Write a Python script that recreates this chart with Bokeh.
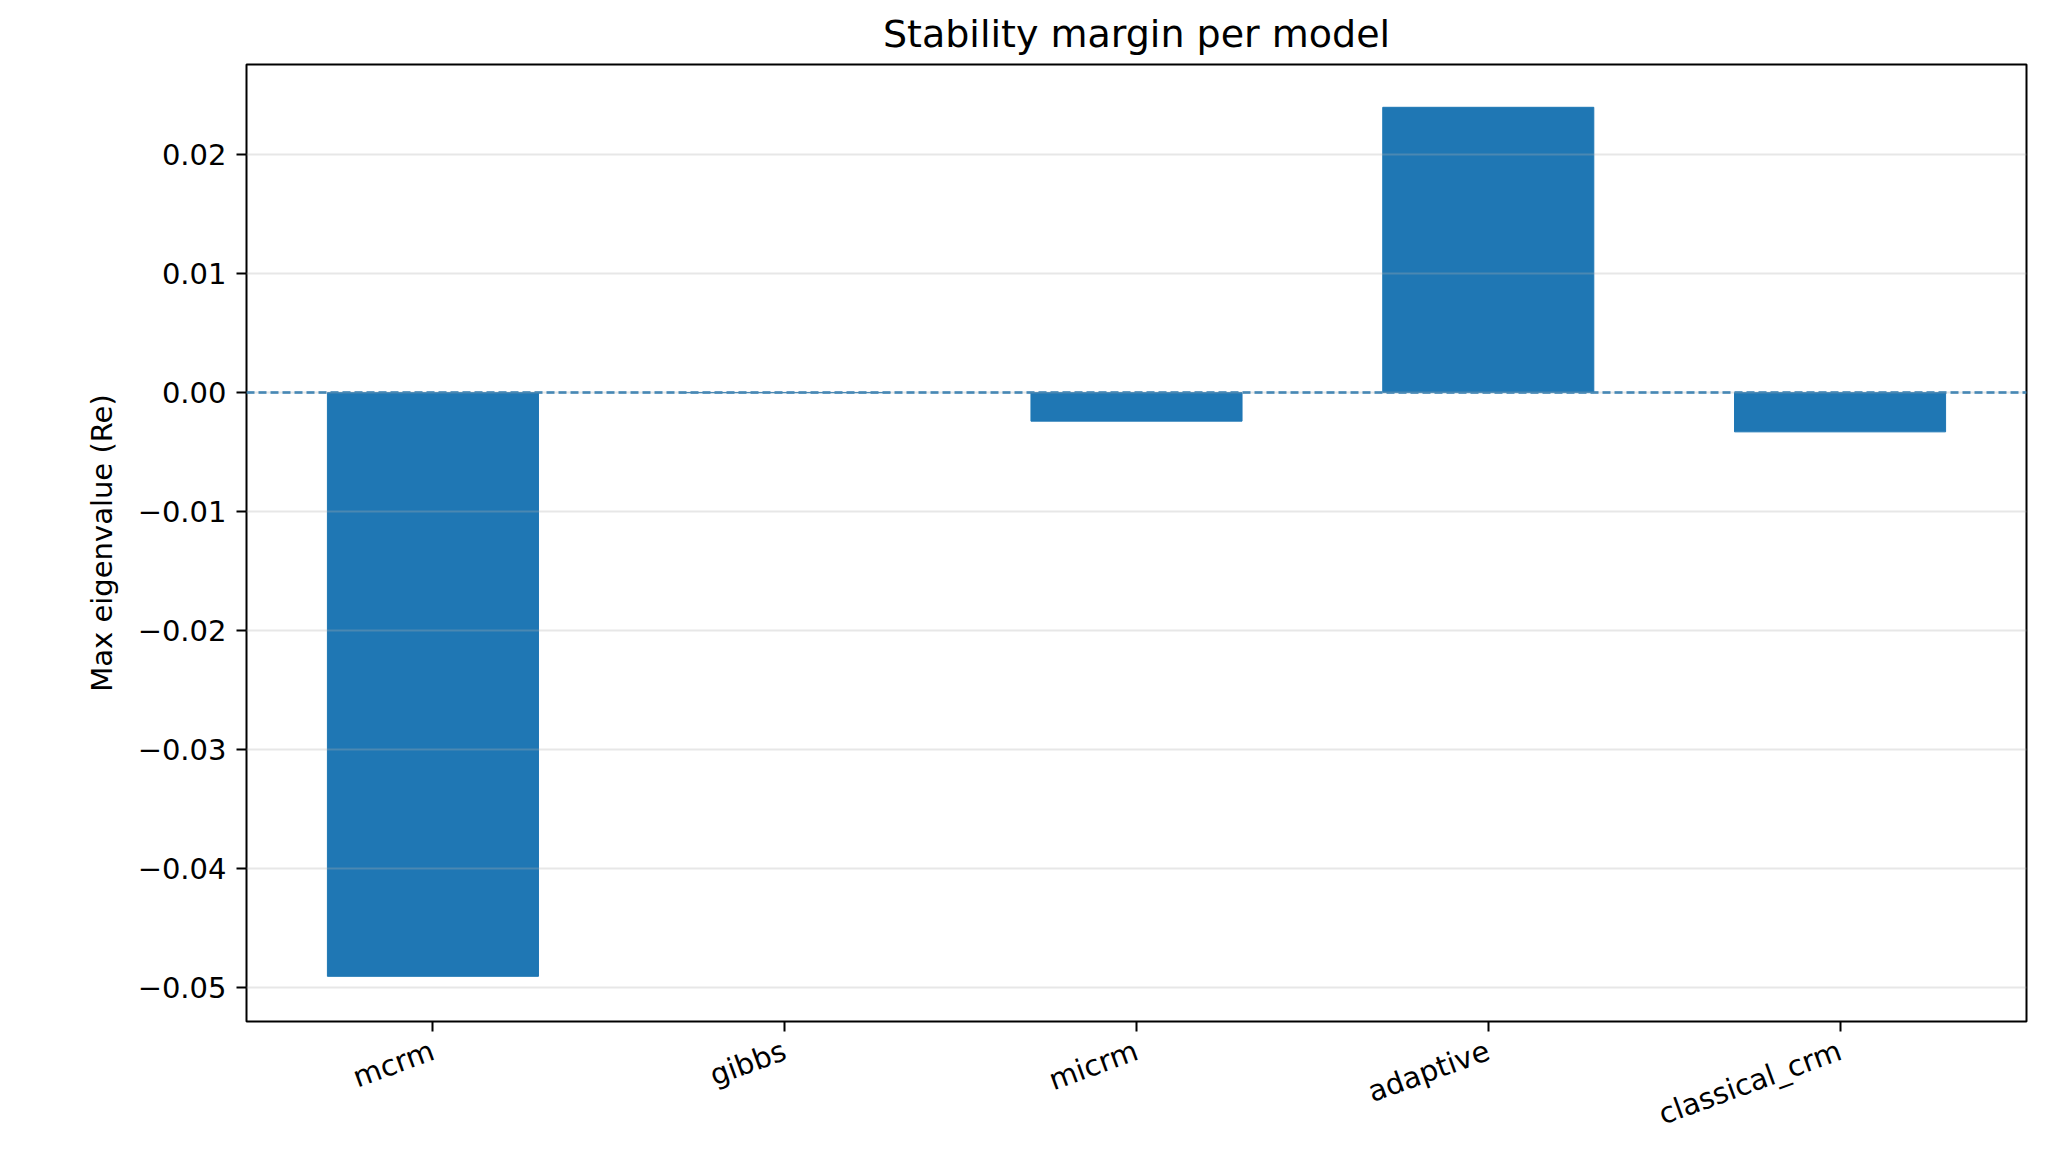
from bokeh.plotting import figure
from bokeh.models import ColumnDataSource, Span, FactorRange
from bokeh.embed import file_html
from bokeh.resources import INLINE

models = ["mcrm", "gibbs", "micrm", "adaptive", "classical_crm"]
max_eig = [-0.0491, 0.0, -0.0024, 0.0240, -0.0033]
y_ticks = [-0.05, -0.04, -0.03, -0.02, -0.01, 0.0, 0.01, 0.02]

src = ColumnDataSource(data=dict(model=models, val=max_eig))

p = figure(
    x_range=FactorRange(*models, range_padding=0.012),
    y_range=(-0.0529, 0.0276),
    width=2054, height=1150, output_backend="svg", toolbar_location=None,
    title="Stability margin per model",
    min_border_left=246, min_border_right=28, min_border_top=30, min_border_bottom=100,
)
p.vbar(x="model", top="val", bottom=0, width=0.6, color="#1f77b4", source=src)

p.add_layout(Span(location=0, dimension="width", line_color="#1f77b4",
                  line_width=2.5, line_dash="8 4"))

p.title.align = "center"
p.title.text_font = "DejaVu Sans"
p.title.text_font_style = "normal"
p.title.text_color = "black"
p.title.text_font_size = "38px"
p.title.standoff = 18

p.outline_line_color = "black"
p.outline_line_width = 2
p.xgrid.grid_line_color = None
p.ygrid.grid_line_color = "#b0b0b0"
p.ygrid.grid_line_alpha = 0.3
p.ygrid.grid_line_width = 2
p.ygrid.level = "overlay"

p.yaxis.ticker = y_ticks
p.yaxis.major_label_overrides = {t: ("%.2f" % t).replace("-", "\u2212") for t in y_ticks}
p.yaxis.axis_label = "Max eigenvalue (Re)"
p.yaxis.axis_label_text_font_style = "normal"
p.yaxis.axis_label_standoff = 16
for ax in (p.xaxis, p.yaxis):
    ax.axis_label_text_font = "DejaVu Sans"
    ax.axis_label_text_font_size = "29px"
    ax.axis_label_text_color = "black"
    ax.major_label_text_font = "DejaVu Sans"
    ax.major_label_text_font_size = "29px"
    ax.major_label_text_color = "black"
    ax.major_label_standoff = 10
    ax.axis_line_color = None
    ax.major_tick_line_color = "black"
    ax.major_tick_line_width = 2
    ax.major_tick_out = 10
    ax.major_tick_in = 0
    ax.minor_tick_line_color = None
p.xaxis.major_label_orientation = 0.35
p.xaxis.major_label_standoff = 18
p.xaxis.group_text_font_size = "0px"

open("out.html", "w").write(file_html(p, INLINE))
